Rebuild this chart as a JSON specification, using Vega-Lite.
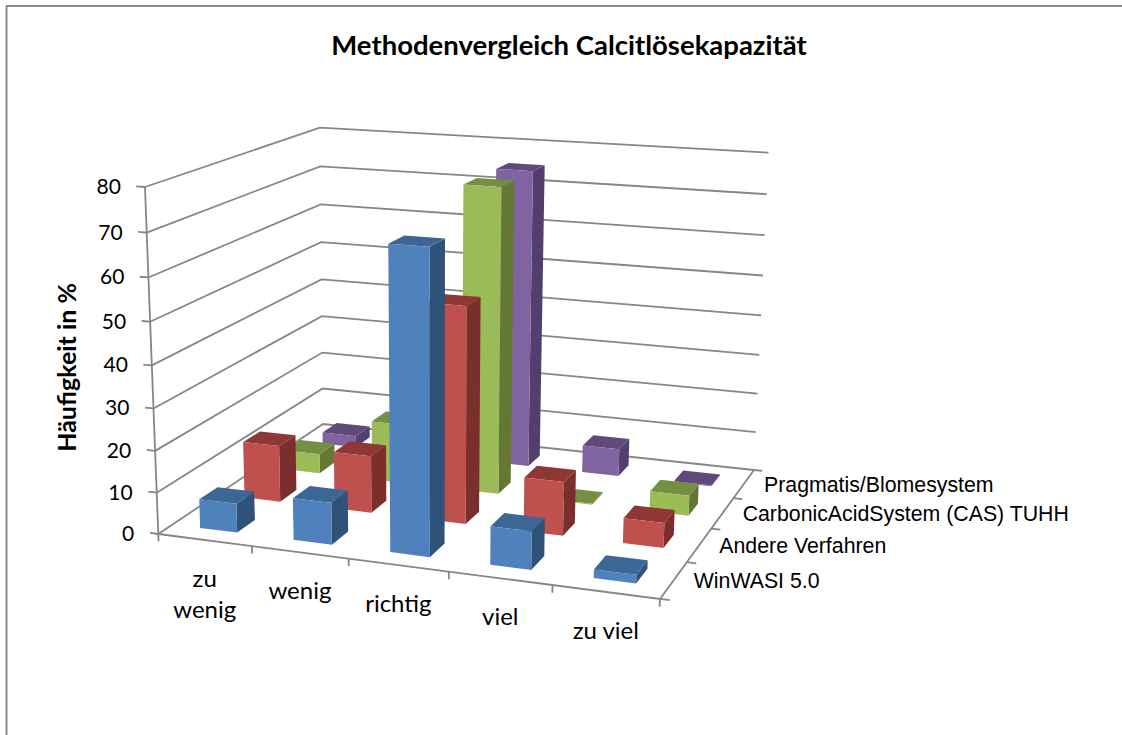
{
"$schema":"https://vega.github.io/schema/vega-lite/v6.json",
"width":1122,"height":735,"padding":0,"autosize":{"type":"none"},
"background":"white",
"view":{"stroke":null},
"title":{"text":"Methodenvergleich Calcitlösekapazität","font":"Lato","fontSize":27.5,"fontWeight":"bold","color":"#000000","anchor":"middle","dx":8,"offset":-60,"frame":"group"},
"datasets":{
"balken":[
{"kategorie":"zu wenig","verfahren":"Pragmatis/Blomesystem","wert":3},
{"kategorie":"wenig","verfahren":"Pragmatis/Blomesystem","wert":15},
{"kategorie":"richtig","verfahren":"Pragmatis/Blomesystem","wert":75},
{"kategorie":"viel","verfahren":"Pragmatis/Blomesystem","wert":7},
{"kategorie":"zu viel","verfahren":"Pragmatis/Blomesystem","wert":0.2},
{"kategorie":"zu wenig","verfahren":"CarbonicAcidSystem (CAS) TUHH","wert":5},
{"kategorie":"wenig","verfahren":"CarbonicAcidSystem (CAS) TUHH","wert":15},
{"kategorie":"richtig","verfahren":"CarbonicAcidSystem (CAS) TUHH","wert":75},
{"kategorie":"viel","verfahren":"CarbonicAcidSystem (CAS) TUHH","wert":0.2},
{"kategorie":"zu viel","verfahren":"CarbonicAcidSystem (CAS) TUHH","wert":5},
{"kategorie":"zu wenig","verfahren":"Andere Verfahren","wert":14},
{"kategorie":"wenig","verfahren":"Andere Verfahren","wert":14},
{"kategorie":"richtig","verfahren":"Andere Verfahren","wert":52},
{"kategorie":"viel","verfahren":"Andere Verfahren","wert":13},
{"kategorie":"zu viel","verfahren":"Andere Verfahren","wert":6},
{"kategorie":"zu wenig","verfahren":"WinWASI 5.0","wert":7},
{"kategorie":"wenig","verfahren":"WinWASI 5.0","wert":10},
{"kategorie":"richtig","verfahren":"WinWASI 5.0","wert":70},
{"kategorie":"viel","verfahren":"WinWASI 5.0","wert":9},
{"kategorie":"zu viel","verfahren":"WinWASI 5.0","wert":2}
],
"werte":[{"wert":0},{"wert":10},{"wert":20},{"wert":30},{"wert":40},{"wert":50},{"wert":60},{"wert":70},{"wert":80}],
"kategorien":[{"nr":0,"name":"zu\nwenig"},{"nr":1,"name":"wenig"},{"nr":2,"name":"richtig"},{"nr":3,"name":"viel"},{"nr":4,"name":"zu viel"}],
"verfahren":[{"nr":0,"name":"WinWASI 5.0"},{"nr":1,"name":"Andere Verfahren"},{"nr":2,"name":"CarbonicAcidSystem (CAS) TUHH"},{"nr":3,"name":"Pragmatis/Blomesystem"}],
"grenzenK":[{"nr":0},{"nr":1},{"nr":2},{"nr":3},{"nr":4},{"nr":5}],
"grenzenV":[{"nr":0},{"nr":1},{"nr":2},{"nr":3},{"nr":4}],
"boden":[{"kante":"vorn und rechts"}],
"achsentitel":[{"text":"Häufigkeit in %"}]
},
"layer":[
{"data":{"name":"boden"},"mark":{"type":"rule","color":"#8c8c8c","strokeWidth":2},
 "encoding":{"x":{"datum":6.5,"type":"quantitative","scale":{"domain":[0,1122]},"axis":null},"y":{"datum":6,"type":"quantitative","scale":{"domain":[735,0]},"axis":null},"y2":{"datum":735}}},
{"data":{"name":"boden"},"mark":{"type":"rule","color":"#8c8c8c","strokeWidth":2},
 "encoding":{"x":{"datum":6,"type":"quantitative","scale":{"domain":[0,1122]},"axis":null},"x2":{"datum":1122},"y":{"datum":6,"type":"quantitative","scale":{"domain":[735,0]},"axis":null}}},
{"data":{"name":"werte"},
 "transform":[
 {"calculate":"[0,1,2]","as":"schritt"},{"flatten":["schritt"]},
 {"calculate":"datum.schritt==2?1:0","as":"u"},{"calculate":"datum.schritt==0?0:1","as":"v"},{"calculate":"datum.wert/80","as":"w"},
 {"calculate":"(447.3*datum.u+223.5*datum.v-21.3*datum.w-5*datum.u*datum.w+158.3)/(-0.0824*datum.u+0.182*datum.v-0.055*datum.w+1)","as":"px"},
 {"calculate":"(15.6*datum.u-32.8*datum.v-357.3*datum.w+534)/(-0.0824*datum.u+0.182*datum.v-0.055*datum.w+1)","as":"py"}],
 "mark":{"type":"line","color":"#868686","strokeWidth":1.8},
 "encoding":{"x":{"field":"px","type":"quantitative","scale":{"domain":[0,1122]},"axis":null},"y":{"field":"py","type":"quantitative","scale":{"domain":[735,0]},"axis":null},"detail":{"field":"wert"},"order":{"field":"schritt"}}},
{"data":{"name":"werte"},
 "transform":[
 {"calculate":"[0,1]","as":"schritt"},{"flatten":["schritt"]},
 {"calculate":"datum.schritt==0?-0.018:0","as":"u"},{"calculate":"datum.wert/80","as":"w"},
 {"calculate":"(447.3*datum.u-21.3*datum.w+158.3)/(-0.0824*datum.u-0.055*datum.w+1)","as":"px"},
 {"calculate":"(15.6*datum.u-357.3*datum.w+534)/(-0.0824*datum.u-0.055*datum.w+1)","as":"py"}],
 "mark":{"type":"line","color":"#868686","strokeWidth":1.8},
 "encoding":{"x":{"field":"px","type":"quantitative","scale":{"domain":[0,1122]},"axis":null},"y":{"field":"py","type":"quantitative","scale":{"domain":[735,0]},"axis":null},"detail":{"field":"wert"},"order":{"field":"schritt"}}},
{"data":{"name":"werte"},
 "transform":[
 {"calculate":"datum.wert/80","as":"w"},
 {"calculate":"(-21.3*datum.w+158.3)/(-0.055*datum.w+1)","as":"px"},
 {"calculate":"(-357.3*datum.w+534)/(-0.055*datum.w+1)","as":"py"}],
 "mark":{"type":"line","color":"#868686","strokeWidth":1.8},
 "encoding":{"x":{"field":"px","type":"quantitative","scale":{"domain":[0,1122]},"axis":null},"y":{"field":"py","type":"quantitative","scale":{"domain":[735,0]},"axis":null},"order":{"field":"wert"}}},
{"data":{"name":"boden"},
 "transform":[
 {"calculate":"[0,1,2]","as":"schritt"},{"flatten":["schritt"]},
 {"calculate":"datum.schritt==0?0:1","as":"u"},{"calculate":"datum.schritt==2?1:0","as":"v"},
 {"calculate":"(447.3*datum.u+223.5*datum.v+158.3)/(-0.0824*datum.u+0.182*datum.v+1)","as":"px"},
 {"calculate":"(15.6*datum.u-32.8*datum.v+534)/(-0.0824*datum.u+0.182*datum.v+1)","as":"py"}],
 "mark":{"type":"line","color":"#868686","strokeWidth":1.8},
 "encoding":{"x":{"field":"px","type":"quantitative","scale":{"domain":[0,1122]},"axis":null},"y":{"field":"py","type":"quantitative","scale":{"domain":[735,0]},"axis":null},"order":{"field":"schritt"}}},
{"data":{"name":"grenzenK"},
 "transform":[
 {"calculate":"[0,1]","as":"schritt"},{"flatten":["schritt"]},
 {"calculate":"datum.nr/5","as":"u"},{"calculate":"datum.schritt==0?0:-0.022","as":"w"},
 {"calculate":"(447.3*datum.u-21.3*datum.w+158.3)/(-0.0824*datum.u-0.055*datum.w+1)","as":"px"},
 {"calculate":"(15.6*datum.u-357.3*datum.w+534)/(-0.0824*datum.u-0.055*datum.w+1)","as":"py"}],
 "mark":{"type":"line","color":"#868686","strokeWidth":1.8},
 "encoding":{"x":{"field":"px","type":"quantitative","scale":{"domain":[0,1122]},"axis":null},"y":{"field":"py","type":"quantitative","scale":{"domain":[735,0]},"axis":null},"detail":{"field":"nr"},"order":{"field":"schritt"}}},
{"data":{"name":"grenzenV"},
 "transform":[
 {"calculate":"[0,1]","as":"schritt"},{"flatten":["schritt"]},
 {"calculate":"datum.schritt==0?1:1.018","as":"u"},{"calculate":"datum.nr/4","as":"v"},
 {"calculate":"(447.3*datum.u+223.5*datum.v+158.3)/(-0.0824*datum.u+0.182*datum.v+1)","as":"px"},
 {"calculate":"(15.6*datum.u-32.8*datum.v+534)/(-0.0824*datum.u+0.182*datum.v+1)","as":"py"}],
 "mark":{"type":"line","color":"#868686","strokeWidth":1.8},
 "encoding":{"x":{"field":"px","type":"quantitative","scale":{"domain":[0,1122]},"axis":null},"y":{"field":"py","type":"quantitative","scale":{"domain":[735,0]},"axis":null},"detail":{"field":"nr"},"order":{"field":"schritt"}}},
{"data":{"name":"balken"},
 "transform":[
 {"calculate":"indexof(['zu wenig','wenig','richtig','viel','zu viel'],datum.kategorie)","as":"i"},
 {"calculate":"indexof(['WinWASI 5.0','Andere Verfahren','CarbonicAcidSystem (CAS) TUHH','Pragmatis/Blomesystem'],datum.verfahren)","as":"j"},
 {"calculate":"['side','top','front']","as":"flaeche"},{"flatten":["flaeche"]},
 {"calculate":"[0,1,2,3]","as":"ecke"},{"flatten":["ecke"]},
 {"calculate":"(datum.i+0.5)/5-0.04","as":"u0"},{"calculate":"(datum.i+0.5)/5+0.04","as":"u1"},
 {"calculate":"(datum.j+0.5)/4-0.05","as":"v0"},{"calculate":"(datum.j+0.5)/4+0.05","as":"v1"},
 {"calculate":"datum.flaeche=='side'?datum.u1:((datum.ecke==0||datum.ecke==3)?datum.u0:datum.u1)","as":"u"},
 {"calculate":"datum.flaeche=='front'?datum.v0:(datum.flaeche=='side'?((datum.ecke==0||datum.ecke==3)?datum.v0:datum.v1):(datum.ecke<2?datum.v0:datum.v1))","as":"v"},
 {"calculate":"datum.flaeche=='top'?datum.wert/80:(datum.ecke<2?0:datum.wert/80)","as":"w"},
 {"calculate":"(447.3*datum.u+223.5*datum.v-21.3*datum.w-5*datum.u*datum.w+158.3)/(-0.0824*datum.u+0.182*datum.v-0.055*datum.w+1)","as":"px"},
 {"calculate":"(15.6*datum.u-32.8*datum.v-357.3*datum.w+534)/(-0.0824*datum.u+0.182*datum.v-0.055*datum.w+1)","as":"py"},
 {"calculate":"datum.j+' '+datum.flaeche","as":"farbe"},
 {"calculate":"datum.kategorie+'|'+datum.verfahren+'|'+datum.flaeche","as":"teil"}],
 "mark":{"type":"line","filled":true,"strokeWidth":0},
 "encoding":{"x":{"field":"px","type":"quantitative","scale":{"domain":[0,1122]},"axis":null},"y":{"field":"py","type":"quantitative","scale":{"domain":[735,0]},"axis":null},
 "color":{"field":"farbe","type":"nominal","legend":null,"scale":{
 "domain":["0 front","0 side","0 top","1 front","1 side","1 top","2 front","2 side","2 top","3 front","3 side","3 top"],
 "range":["#4F81BD","#2F5279","#3C6695","#C0504D","#7B2F2D","#8E3735","#9BBB59","#657833","#748F42","#8064A2","#523F6E","#604A7B"]}},
 "detail":{"field":"teil"},"order":{"field":"ecke"}}},
{"data":{"name":"werte"},
 "transform":[
 {"calculate":"datum.wert/80","as":"w"},
 {"calculate":"(-21.3*datum.w+158.3)/(-0.055*datum.w+1)","as":"px"},
 {"calculate":"(-357.3*datum.w+534)/(-0.055*datum.w+1)","as":"py"}],
 "mark":{"type":"text","font":"Lato","fontSize":21,"align":"right","baseline":"middle","dx":-24,"dy":1,"color":"#000000"},
 "encoding":{"x":{"field":"px","type":"quantitative","scale":{"domain":[0,1122]},"axis":null},"y":{"field":"py","type":"quantitative","scale":{"domain":[735,0]},"axis":null},"text":{"field":"wert","type":"quantitative"}}},
{"data":{"name":"achsentitel"},
 "transform":[
 {"calculate":"0.5","as":"w"},
 {"calculate":"(-21.3*datum.w+158.3)/(-0.055*datum.w+1)","as":"px"},
 {"calculate":"(-357.3*datum.w+534)/(-0.055*datum.w+1)","as":"py"}],
 "mark":{"type":"text","font":"Lato","fontSize":25,"fontWeight":"bold","align":"center","baseline":"middle","angle":270,"dy":-84,"dx":-2,"color":"#000000"},
 "encoding":{"x":{"field":"px","type":"quantitative","scale":{"domain":[0,1122]},"axis":null},"y":{"field":"py","type":"quantitative","scale":{"domain":[735,0]},"axis":null},"text":{"field":"text","type":"nominal"}}},
{"data":{"name":"kategorien"},
 "transform":[
 {"calculate":"(datum.nr+0.5)/5","as":"u"},
 {"calculate":"(447.3*datum.u+158.3)/(-0.0824*datum.u+1)","as":"px"},
 {"calculate":"(15.6*datum.u+534)/(-0.0824*datum.u+1)","as":"py"}],
 "mark":{"type":"text","font":"Lato","fontSize":24,"align":"center","baseline":"top","dy":28,"lineBreak":"\n","lineHeight":31,"color":"#000000"},
 "encoding":{"x":{"field":"px","type":"quantitative","scale":{"domain":[0,1122]},"axis":null},"y":{"field":"py","type":"quantitative","scale":{"domain":[735,0]},"axis":null},"text":{"field":"name","type":"nominal"}}},
{"data":{"name":"verfahren"},
 "transform":[
 {"calculate":"(datum.nr+0.5)/4","as":"v"},
 {"calculate":"(605.6+223.5*datum.v)/(0.9176+0.182*datum.v)","as":"px"},
 {"calculate":"(549.6-32.8*datum.v)/(0.9176+0.182*datum.v)","as":"py"}],
 "mark":{"type":"text","font":"Liberation Sans","fontSize":21.3,"align":"left","baseline":"middle","dx":20,"dy":2,"color":"#000000"},
 "encoding":{"x":{"field":"px","type":"quantitative","scale":{"domain":[0,1122]},"axis":null},"y":{"field":"py","type":"quantitative","scale":{"domain":[735,0]},"axis":null},"text":{"field":"name","type":"nominal"}}}
]
}
